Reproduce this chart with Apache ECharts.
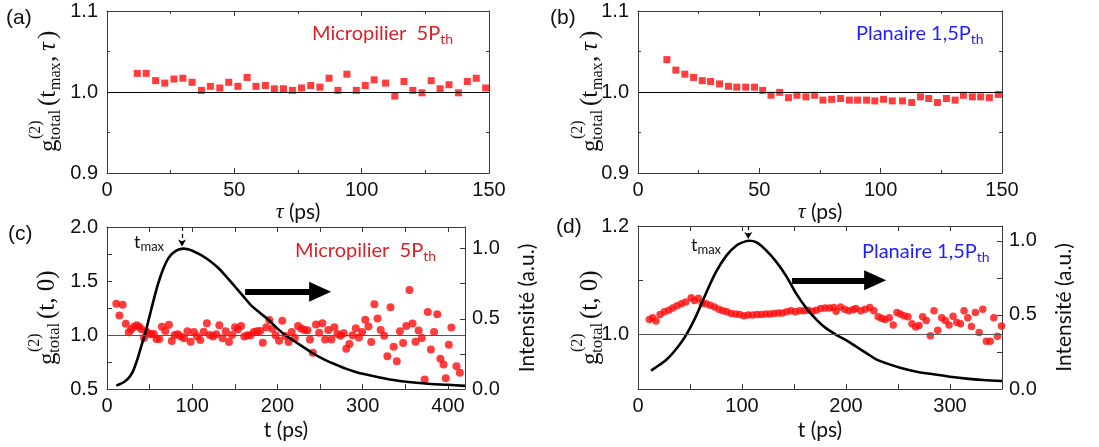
<!DOCTYPE html>
<html><head><meta charset="utf-8">
<script src="https://cdn.jsdelivr.net/npm/echarts@6/dist/echarts.min.js"></script>
<style>html,body{margin:0;padding:0;background:#fff}#c{width:1099px;height:447px}</style>
</head><body><div id="c"></div>
<script>
// ---- data ----
const aTau = [11.9,15.4,19.1,22.7,26.3,29.8,33.4,37.1,40.6,44.3,47.8,51.4,55.0,58.5,62.2,65.7,69.3,72.8,76.4,80.0,83.6,87.2,90.7,94.2,97.9,101.4,104.9,109.4,113.0,116.6,120.1,123.7,127.3,130.8,134.3,138.0,141.5,145.0,148.7];
const aG = [1.023,1.023,1.014,1.011,1.016,1.017,1.012,1.002,1.007,1.005,1.012,1.007,1.018,1.007,1.008,1.004,1.004,1.002,1.005,1.008,1.006,1.017,1.002,1.022,1.002,1.008,1.015,1.011,0.995,1.013,1.002,0.999,1.014,1.004,1.009,0.999,1.013,1.017,1.005];

const bTau = [11.9,15.6,19.3,22.9,26.5,29.9,33.6,37.3,40.7,44.4,48.0,51.4,54.8,58.4,62.0,65.5,69.2,72.8,76.2,79.8,83.5,87.1,90.5,94.2,97.6,101.2,104.8,109.0,112.8,116.4,119.8,123.4,127.1,130.7,134.1,137.8,141.2,144.8,148.5];
const bG = [1.040,1.027,1.022,1.018,1.014,1.013,1.010,1.007,1.006,1.006,1.006,1.002,0.996,0.9996,0.993,0.996,0.994,0.996,0.990,0.991,0.992,0.990,0.990,0.990,0.989,0.991,0.989,0.989,0.987,0.994,0.992,0.987,0.992,0.990,0.996,0.994,0.994,0.993,0.997];

const cT = [10.9,14.6,18.4,22.1,25.5,28.5,31.8,34.8,37.8,40.4,43.4,46.4,49.4,52.1,55.1,58.1,61.4,64.4,68.5,72.7,76,79.4,83.1,86.5,90.3,94.4,98.1,101.9,105.6,109.4,113.5,117.2,120.6,124.3,128.1,131.8,135.6,139.3,143.1,146.8,150.2,153.6,157.3,161.1,164.8,168.5,172.3,176,179.8,182.8,186.9,190.6,194,197.8,201.9,205.6,209.3,213,216.7,220.4,224.1,227.8,231.5,235.2,238.1,241.5,245.2,248.9,252.6,255.9,259.6,263.3,266.7,270.4,274.1,277.8,280.7,284.4,288.1,291.9,295.6,299.3,303,306.7,310,313.7,317.4,321.1,325.2,328.9,332.6,336.3,340,343.7,347.4,351.1,354.8,358.5,361.9,365.6,369.3,372.6,376.3,380,383.7,387.4,391.1,394.8,397.4,401,404,410,414];
const cG = [1.29,1.18,1.28,1.105,1.025,1.053,1.077,1.09,1.077,1.053,0.972,1.031,1.012,1.006,1.009,0.963,0.963,1.077,1.037,1.096,0.944,1.0,1.006,0.985,0.969,1.034,0.938,1.028,0.988,0.954,1.031,1.108,1.0,0.985,1.006,1.09,0.969,1.034,0.935,1.0,1.071,1.053,1.084,0.985,0.997,0.997,1.028,1.034,1.037,0.929,1.071,1.139,1.059,0.997,0.947,1.131,0.99,0.936,1.028,0.972,1.084,1.06,1.047,1.044,0.959,0.835,1.097,1.021,1.109,0.959,1.047,0.959,1.072,1.01,0.994,1.016,0.872,0.916,0.997,1.063,0.978,1.028,1.141,1.078,0.935,1.284,1.153,1.047,0.994,0.803,1.256,0.891,0.756,1.034,0.925,1.084,1.416,1.107,0.937,1.041,0.972,0.588,1.213,0.866,1.028,1.193,0.781,0.728,0.6,0.91,1.07,0.71,0.65];
const cCurveT = [11,15,20,25,30,35,40,45,50,55,60,65,70,75,80,85,90,95,100,110,120,130,140,150,160,170,180,190,200,210,220,230,240,250,260,270,280,290,300,320,340,360,380,400,420];
const cCurveI = [0.024,0.035,0.05,0.075,0.12,0.2,0.3,0.4,0.52,0.64,0.75,0.84,0.91,0.955,0.98,0.995,1.0,0.995,0.985,0.955,0.915,0.865,0.8,0.73,0.66,0.59,0.54,0.49,0.43,0.38,0.34,0.3,0.26,0.225,0.195,0.17,0.145,0.125,0.108,0.082,0.06,0.046,0.036,0.03,0.022];

const dT = [10.9,14.1,17.3,21.2,25.4,29.6,33.4,37.6,41.8,45.9,51.1,54.3,58.1,61.7,65.5,69.4,73.6,77.7,81.6,85.4,89.6,93.8,97.7,101.8,106,110.2,114.4,118.5,122.7,126.6,130.7,134.9,138.8,142.9,147.1,151.3,155.5,159.7,163.5,167.7,171.5,175.7,179.9,184,188.2,190.5,194.7,198.8,202.7,206.9,209.4,214.3,218.4,222.9,226.8,231,234.2,237.4,241.6,245.4,249,252.2,255.7,259.6,263.4,267,270.2,273.7,277.2,281.1,284.6,288.2,292,295.5,299.1,302.9,306.5,310,313.5,317.1,320.6,324.4,328,331.5,335,338.6,342.1,345.6,349.5];
const dG = [1.028,1.031,1.025,1.037,1.042,1.045,1.049,1.053,1.057,1.060,1.068,1.063,1.067,1.058,1.057,1.054,1.051,1.047,1.044,1.042,1.039,1.038,1.037,1.035,1.036,1.036,1.037,1.037,1.038,1.038,1.039,1.040,1.040,1.042,1.044,1.042,1.044,1.044,1.045,1.043,1.045,1.048,1.049,1.049,1.050,1.043,1.051,1.047,1.044,1.046,1.048,1.044,1.047,1.050,1.044,1.033,1.030,1.028,1.031,1.018,1.041,1.038,1.035,1.033,1.020,1.014,1.017,1.033,1.026,0.998,1.044,1.008,1.031,1.026,1.018,1.034,1.023,1.020,1.044,1.031,1.015,1.041,1.004,1.047,0.988,0.988,1.031,0.997,1.016];
const dCurveT = [12.5,20,27,35,45,55,65,75,85,95,104,107,114,123,133,143,152,162,172,181,191,200,210,220,229,239,252,268,284,300,316,332,350];
const dCurveI = [0.124,0.16,0.196,0.255,0.35,0.48,0.64,0.79,0.9,0.97,0.998,1.0,0.989,0.937,0.858,0.757,0.645,0.544,0.465,0.409,0.364,0.33,0.285,0.24,0.2,0.173,0.144,0.117,0.099,0.083,0.07,0.061,0.054];

const tmaxC = 88, tmaxD = 106;

// ---- helpers ----
const zip = (xs, ys) => xs.map((x, i) => [x, ys[i]]);
const RED = '#ff0d0d';
const AX = '#3a3a3a';
const tickFont = 'Liberation Sans';
function fmt(every, dec) {
  return v => { const r = v / every; return Math.abs(r - Math.round(r)) < 1e-6 ? v.toFixed(dec) : ''; };
}
function axis(o) {
  return Object.assign({
    type: 'value',
    axisLine: { show: true, onZero: false, lineStyle: { color: AX, width: 1 } },
    axisTick: { show: true, inside: true, length: 5, lineStyle: { color: AX } },
    splitLine: { show: false },
    axisLabel: { show: true, color: '#111', fontFamily: tickFont, fontSize: 20, margin: 8 }
  }, o);
}
function mirror(o) {
  return axis(Object.assign({ axisLabel: { show: false } }, o));
}
const minor2 = { show: true, splitNumber: 2, length: 3, lineStyle: { color: AX } };
const lbl = (f, m) => ({ color: '#111', fontFamily: tickFont, fontSize: 20, margin: m, formatter: f });

const grids = [
  { left: 107, top: 11, width: 382, height: 162 },
  { left: 638, top: 11, width: 364, height: 162 },
  { left: 107, top: 227, width: 358, height: 162 },
  { left: 638, top: 226, width: 364, height: 163 }
];

const nameStyleTau = {
  fontFamily: 'Lato', fontSize: 21, color: '#111',
  rich: { i: { fontFamily: 'Liberation Serif', fontStyle: 'italic', fontSize: 22, color: '#111' } }
};
const nameStyleT = { fontFamily: 'Lato', fontSize: 21, color: '#111' };

const xAxis = [
  axis({ gridIndex: 0, min: 0, max: 150, interval: 50, minorTick: minor2, axisLabel: lbl(fmt(50, 0), 7),
    name: '{i|τ} (ps)', nameLocation: 'middle', nameGap: 28, nameTextStyle: nameStyleTau }),
  axis({ gridIndex: 1, min: 0, max: 150, interval: 50, minorTick: minor2, axisLabel: lbl(fmt(50, 0), 7),
    name: '{i|τ} (ps)', nameLocation: 'middle', nameGap: 28, nameTextStyle: nameStyleTau }),
  axis({ gridIndex: 2, min: 0, max: 420, interval: 50, axisLabel: lbl(fmt(100, 0), 7),
    name: 't (ps)', nameLocation: 'middle', nameGap: 31, nameTextStyle: nameStyleT }),
  axis({ gridIndex: 3, min: 0, max: 350, interval: 50, axisLabel: lbl(fmt(100, 0), 7),
    name: 't (ps)', nameLocation: 'middle', nameGap: 31, nameTextStyle: nameStyleT }),
  mirror({ gridIndex: 0, position: 'top', min: 0, max: 150, interval: 50, minorTick: minor2 }),
  mirror({ gridIndex: 1, position: 'top', min: 0, max: 150, interval: 50, minorTick: minor2 }),
  mirror({ gridIndex: 2, position: 'top', min: 0, max: 420, interval: 50 }),
  mirror({ gridIndex: 3, position: 'top', min: 0, max: 350, interval: 50 })
];

const yAxis = [
  axis({ gridIndex: 0, min: 0.9, max: 1.1, interval: 0.1, minorTick: minor2, axisLabel: lbl(fmt(0.1, 1), 9) }),
  axis({ gridIndex: 1, min: 0.9, max: 1.1, interval: 0.1, minorTick: minor2, axisLabel: lbl(fmt(0.1, 1), 9) }),
  axis({ gridIndex: 2, min: 0.5, max: 2.0, interval: 0.25, axisLabel: lbl(fmt(0.5, 1), 9) }),
  axis({ gridIndex: 2, position: 'right', min: 0, max: 1.5 / 1.3, interval: 0.25, axisLabel: lbl(fmt(0.5, 1), 7),
    name: 'Intensité (a.u.)', nameLocation: 'middle', nameRotate: 90, nameGap: 52, nameTextStyle: nameStyleT }),
  axis({ gridIndex: 3, min: 0.9, max: 1.2, interval: 0.1,
    axisLabel: lbl(v => { const k = Math.round(v * 10); return (Math.abs(v * 10 - k) < 1e-6 && k % 2 === 0) ? v.toFixed(1) : ''; }, 9) }),
  axis({ gridIndex: 3, position: 'right', min: 0, max: 1.1, interval: 0.25, axisLabel: lbl(fmt(0.5, 1), 7),
    name: 'Intensité (a.u.)', nameLocation: 'middle', nameRotate: 90, nameGap: 52, nameTextStyle: nameStyleT }),
  mirror({ gridIndex: 0, position: 'right', min: 0.9, max: 1.1, interval: 0.1, minorTick: minor2 }),
  mirror({ gridIndex: 1, position: 'right', min: 0.9, max: 1.1, interval: 0.1, minorTick: minor2 })
];

function unityLine(color) {
  return { yAxis: 1, lineStyle: { color: color, width: 1, type: 'solid' } };
}
function bigArrow(x0, x1, y) {
  return [
    { coord: [x0, y], symbol: 'none', lineStyle: { color: '#000', width: 6, type: 'solid' } },
    { coord: [x1, y], symbol: 'triangle', symbolSize: [20, 22] }
  ];
}
function dashArrow(x, y0, y1) {
  return [
    { coord: [x, y0], symbol: 'none', lineStyle: { color: '#000', width: 1.2, type: [4, 3] } },
    { coord: [x, y1], symbol: 'arrow', symbolSize: [6, 7] }
  ];
}

const series = [
  { type: 'scatter', xAxisIndex: 0, yAxisIndex: 0, data: zip(aTau, aG), symbol: 'rect', symbolSize: 7,
    itemStyle: { color: RED }, z: 3,
    markLine: { silent: true, symbol: 'none', label: { show: false }, data: [unityLine('#000')] } },
  { type: 'scatter', xAxisIndex: 1, yAxisIndex: 1, data: zip(bTau, bG), symbol: 'rect', symbolSize: 7,
    itemStyle: { color: RED }, z: 3,
    markLine: { silent: true, symbol: 'none', label: { show: false }, data: [unityLine('#000')] } },
  { type: 'scatter', xAxisIndex: 2, yAxisIndex: 2, data: zip(cT, cG), symbol: 'circle', symbolSize: 8,
    itemStyle: { color: RED }, z: 3,
    markLine: { silent: true, symbol: 'none', label: { show: false }, animation: false,
      data: [unityLine('#555'), bigArrow(162, 250, 1.40), dashArrow(tmaxC, 2.0, 1.82)] } },
  { type: 'line', xAxisIndex: 2, yAxisIndex: 3, data: zip(cCurveT, cCurveI), showSymbol: false, smooth: 0.3,
    lineStyle: { color: '#000', width: 2.6 }, z: 4 },
  { type: 'scatter', xAxisIndex: 3, yAxisIndex: 4, data: zip(dT, dG), symbol: 'circle', symbolSize: 7.5,
    itemStyle: { color: RED }, z: 3,
    markLine: { silent: true, symbol: 'none', label: { show: false }, animation: false,
      data: [unityLine('#555'), bigArrow(148, 228, 1.10), dashArrow(tmaxD, 1.2, 1.176)] } },
  { type: 'line', xAxisIndex: 3, yAxisIndex: 5, data: zip(dCurveT, dCurveI), showSymbol: false, smooth: 0.3,
    lineStyle: { color: '#000', width: 2.6 }, z: 4 }
];

// rich text helper for main + subscript
function subText(left, top, main, sub, color, size, subSize) {
  return {
    type: 'text', left: left, top: top, z: 10,
    style: {
      text: '{m|' + main + '}{s|' + sub + '}',
      rich: {
        m: { fontFamily: 'Lato', fontSize: size, fill: color, lineHeight: size + 2, padding: [0, 0, 6, 0], verticalAlign: 'top' },
        s: { fontFamily: 'Lato', fontSize: subSize, fill: color, lineHeight: subSize + 1, verticalAlign: 'bottom' }
      }
    }
  };
}
function t(left, top, text, font) {
  return { type: 'text', left: left, top: top, z: 10, style: { text: text, font: font, fill: '#111' } };
}
// rotated y-axis name g^(2)_total(...)
function gName(x, y, args) {
  const F = 'Liberation Serif';
  const parts = [
    { text: 'g', x: 0, y: 0, font: '25px "' + F + '"' },
    { text: '(2)', x: 13, y: -13, font: '16px "' + F + '"' },
    { text: 'total', x: 12, y: 7, font: '17px "' + F + '"' }
  ];
  let cx = 46;
  args.forEach(p => {
    parts.push({ text: p.text, x: cx, y: p.sub ? 7 : -1, font: (p.sub ? '16px "' : (p.it ? 'italic 25px "' : '25px "')) + F + '"' });
    cx += p.w;
  });
  return {
    type: 'group', x: x, y: y, rotation: Math.PI / 2, z: 10,
    children: parts.map(p => ({
      type: 'text', x: p.x, y: p.y,
      style: { text: p.text, font: p.font, fill: '#111', textAlign: 'left', align: 'left', textVerticalAlign: 'middle', verticalAlign: 'middle' }
    }))
  };
}
const argsTmax = [{ text: '(t', w: 16 }, { text: 'max', w: 28, sub: true }, { text: ',', w: 11 }, { text: 'τ', w: 12, it: true }, { text: ')', w: 9 }];
const argsT0 = [{ text: '(t, 0)', w: 50 }];

const graphic = [
  t(6, 8, '(a)', '21px "Liberation Sans"'),
  t(550, 8, '(b)', '21px "Liberation Sans"'),
  t(8, 224, '(c)', '21px "Liberation Sans"'),
  t(556, 217, '(d)', '21px "Liberation Sans"'),
  subText(312, 24, 'Micropilier  5P', 'th', '#dd1f26', 20, 14),
  subText(856, 24, 'Planaire 1,5P', 'th', '#1f1fff', 20, 14),
  subText(295, 241, 'Micropilier  5P', 'th', '#dd1f26', 20, 14),
  subText(862, 242, 'Planaire 1,5P', 'th', '#1f1fff', 20, 14),
  subText(134, 233, 't', 'max', '#111', 18, 13),
  subText(691, 236, 't', 'max', '#111', 18, 13),
  gName(49, 152, argsTmax),
  gName(591, 152, argsTmax),
  gName(48, 365, argsT0),
  gName(591, 365, argsT0)
];

const chart = echarts.init(document.getElementById('c'), null, { renderer: 'canvas' });
chart.setOption({
  animation: false,
  backgroundColor: '#fff',
  grid: grids,
  xAxis: xAxis,
  yAxis: yAxis,
  series: series,
  graphic: graphic
});
</script></body></html>
